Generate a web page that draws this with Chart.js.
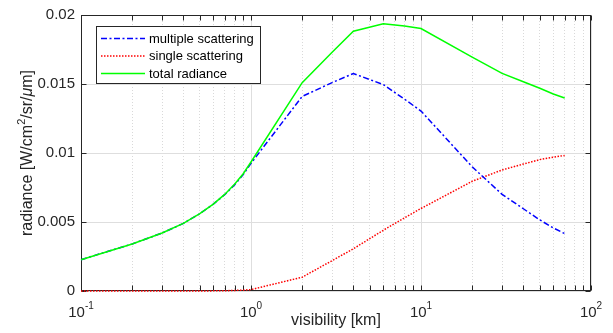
<!DOCTYPE html>
<html>
<head>
<meta charset="utf-8">
<script src="https://cdn.jsdelivr.net/npm/chart.js@4.4.1/dist/chart.umd.min.js"></script>
<style>
html, body { margin: 0; padding: 0; background: #fff; }
</style>
</head>
<body>
<canvas id="chart" width="613" height="333"></canvas>
<script>
// values
const visibility = [0.1, 0.2, 0.3, 0.4, 0.5, 0.6, 0.7, 0.8, 0.9, 1, 2, 3, 4, 6, 8, 10, 20, 30, 40, 50, 60, 70];
const multipleScattering = [0.00227, 0.00341, 0.00420, 0.00490, 0.00560, 0.00629, 0.00698, 0.00769, 0.00844, 0.00925,
  0.01410, 0.01510, 0.01576, 0.01496, 0.01390, 0.01304, 0.00900, 0.00700, 0.00596, 0.00515, 0.00457, 0.00416];
const singleScattering = [0, 0, 0, 0, 0, 0.00001, 0.00002, 0.00004, 0.00006, 0.0001,
  0.00100, 0.00220, 0.00306, 0.00440, 0.00530, 0.00598, 0.00795, 0.00877, 0.00920, 0.00952, 0.00970, 0.00982];
const totalRadiance = [0.00227, 0.00341, 0.00420, 0.00490, 0.00560, 0.00630, 0.00700, 0.00773, 0.00850, 0.00935,
  0.01510, 0.01730, 0.01882, 0.01936, 0.01920, 0.01902, 0.01695, 0.01577, 0.01516, 0.01469, 0.01428, 0.01398];

const seriesLabels = ['multiple scattering', 'single scattering', 'total radiance'];

// axis ticks
const xTicks = [0.1, 0.2, 0.3, 0.4, 0.5, 0.6, 0.7, 0.8, 0.9, 1, 2, 3, 4, 5, 6, 7, 8, 9, 10,
  20, 30, 40, 50, 60, 70, 80, 90, 100];
const xDecades = [0.1, 1, 10, 100];
const xExponents = ['-1', '0', '1', '2'];
const yTicks = [0, 0.005, 0.01, 0.015, 0.02];

const FONT = '"Liberation Sans", Arial, Helvetica, sans-serif';
const axisColor = '#262626';

function isDecade(v) {
  return xDecades.some(d => Math.abs(d - v) < 1e-9);
}

const framePlugin = {
  id: 'frame',
  beforeDatasetsDraw(chart) {
    const ctx = chart.ctx;
    const a = chart.chartArea;
    const x = chart.scales.x, y = chart.scales.y;
    const L = Math.round(a.left) + 0.5, R = Math.round(a.right) - 0.5;
    const T = Math.round(a.top) + 0.5, B = Math.round(a.bottom) - 0.5;
    ctx.save();
    ctx.strokeStyle = axisColor;
    ctx.lineWidth = 1;
    ctx.beginPath();
    xTicks.forEach(v => {
      const px = Math.round(x.getPixelForValue(v)) + 0.5;
      ctx.moveTo(px, B); ctx.lineTo(px, B - 5);
      ctx.moveTo(px, T); ctx.lineTo(px, T + 5);
    });
    yTicks.forEach(v => {
      const py = Math.round(y.getPixelForValue(v)) + 0.5;
      ctx.moveTo(L, py); ctx.lineTo(L + 5, py);
      ctx.moveTo(R, py); ctx.lineTo(R - 5, py);
    });
    ctx.stroke();
    ctx.strokeRect(L, T, R - L, B - T);
    ctx.restore();
  },
  afterDraw(chart) {
    const ctx = chart.ctx;
    const x = chart.scales.x;
    ctx.save();
    ctx.fillStyle = axisColor;
    ctx.textBaseline = 'alphabetic';
    ctx.textAlign = 'left';

    // x tick labels 10^n
    xDecades.forEach((v, i) => {
      const px = x.getPixelForValue(v);
      ctx.font = '15px ' + FONT;
      const wb = ctx.measureText('10').width;
      ctx.font = '10px ' + FONT;
      const we = ctx.measureText(xExponents[i]).width;
      const x0 = px - (wb + we) / 2;
      ctx.font = '15px ' + FONT;
      ctx.fillText('10', x0, 316.5);
      ctx.font = '10px ' + FONT;
      ctx.fillText(xExponents[i], x0 + wb, 308.5);
    });

    // y axis title
    const parts = [
      { t: 'radiance [W/cm', f: '16px ' + FONT, dy: 0 },
      { t: '2', f: '11px ' + FONT, dy: -7 },
      { t: '/sr/', f: '16px ' + FONT, dy: 0 },
      { t: '\u03bc', f: 'italic 16px ' + FONT, dy: 0 },
      { t: 'm]', f: '16px ' + FONT, dy: 0 }
    ];
    let total = 0;
    parts.forEach(p => { ctx.font = p.f; p.w = ctx.measureText(p.t).width; total += p.w; });
    const ay = (chart.chartArea.top + chart.chartArea.bottom) / 2;
    ctx.translate(31.5, ay);
    ctx.rotate(-Math.PI / 2);
    let cx = -total / 2;
    parts.forEach(p => { ctx.font = p.f; ctx.fillText(p.t, cx, p.dy); cx += p.w; });
    ctx.setTransform(1, 0, 0, 1, 0, 0);

    // legend box
    const bx = 96.5, by = 26.5, bw = 164, bh = 57;
    ctx.fillStyle = '#fff';
    ctx.fillRect(bx, by, bw, bh);
    ctx.strokeStyle = axisColor;
    ctx.lineWidth = 1;
    ctx.strokeRect(bx, by, bw, bh);
    const rows = [38.5, 56, 73.5];
    chart.data.datasets.forEach((ds, i) => {
      const ry = rows[i];
      ctx.strokeStyle = ds.borderColor;
      ctx.lineWidth = ds.borderWidth;
      ctx.setLineDash(ds.borderDash || []);
      ctx.beginPath();
      ctx.moveTo(101, ry);
      ctx.lineTo(145, ry);
      ctx.stroke();
      ctx.setLineDash([]);
      ctx.fillStyle = '#000';
      ctx.font = '13px ' + FONT;
      ctx.textBaseline = 'middle';
      ctx.fillText(ds.label, 149, ry + 0.5);
    });
    ctx.restore();
  }
};

function toPoints(ys) {
  return visibility.map((v, i) => ({ x: v, y: ys[i] }));
}

const config = {
  type: 'line',
  data: {
    datasets: [{
      label: seriesLabels[0],
      data: toPoints(multipleScattering),
      borderColor: '#0000ff',
      borderWidth: 1.5,
      borderDash: [6, 2.5, 2, 2.5],
      order: 1
    }, {
      label: seriesLabels[1],
      data: toPoints(singleScattering),
      borderColor: '#ff0000',
      borderWidth: 1.5,
      borderDash: [1.5, 1.5],
      order: 2
    }, {
      label: seriesLabels[2],
      data: toPoints(totalRadiance),
      borderColor: '#00ff00',
      borderWidth: 1.5,
      order: 0
    }]
  },
  options: {
    responsive: false,
    animation: false,
    devicePixelRatio: 1,
    layout: { padding: { left: 0, right: 22, top: 13, bottom: 0 } },
    elements: {
      point: { radius: 0 },
      line: { tension: 0, fill: false }
    },
    datasets: { line: { clip: false } },
    plugins: {
      legend: { display: false },
      tooltip: { enabled: false }
    },
    scales: {
      x: {
        type: 'logarithmic',
        min: 0.1,
        max: 100,
        afterBuildTicks: scale => { scale.ticks = xTicks.map(v => ({ value: v })); },
        afterFit: scale => { scale.height = 42; },
        ticks: { display: false },
        border: {
          display: false,
          dash: c => (c.tick && isDecade(c.tick.value)) ? [] : [1, 2]
        },
        grid: {
          drawTicks: false,
          lineWidth: 1,
          color: c => (c.tick && isDecade(c.tick.value)) ? '#dedede' : '#d9d9d9'
        },
        title: {
          display: true,
          text: 'visibility [km]',
          color: axisColor,
          font: { family: FONT, size: 16 },
          padding: { top: 0, bottom: 3 }
        }
      },
      y: {
        min: 0,
        max: 0.02,
        afterBuildTicks: scale => { scale.ticks = yTicks.map(v => ({ value: v })); },
        afterFit: scale => { scale.width = 81; },
        ticks: {
          color: axisColor,
          padding: 6,
          font: { family: FONT, size: 15 },
          callback: v => String(+Number(v).toFixed(3))
        },
        border: { display: false },
        grid: {
          drawTicks: false,
          lineWidth: 1,
          color: '#dedede'
        }
      }
    }
  },
  plugins: [framePlugin]
};

new Chart(document.getElementById('chart'), config);
</script>
</body>
</html>
